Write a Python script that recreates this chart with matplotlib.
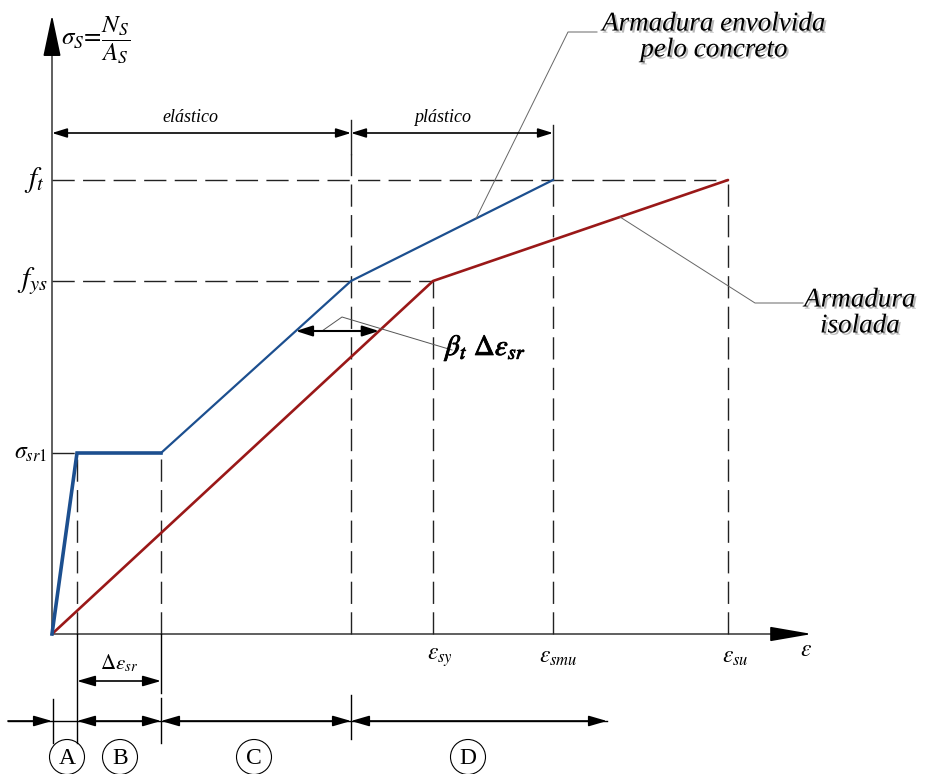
import numpy as np
import matplotlib
matplotlib.use('Agg')
import matplotlib.pyplot as plt
import matplotlib.patheffects as pe
from matplotlib.patches import Circle

plt.rcParams['font.family'] = ['Liberation Serif', 'DejaVu Serif']
plt.rcParams['mathtext.fontset'] = 'stix'

# Valores do diagrama (unidades do desenho)
eps_sr1 = 25          # fim da fissuracao
eps_patamar = 109     # fim do patamar de fissuracao
eps_plast = 299       # escoamento da armadura envolvida
eps_sy = 381
eps_smu = 501
eps_su = 676
sig_sr1 = 181
f_ys = 353
f_t = 454

eps_envolvida = [0, eps_sr1, eps_patamar, eps_plast, eps_smu]
sig_envolvida = [0, sig_sr1, sig_sr1, f_ys, f_t]
eps_isolada = [0, eps_sy, eps_su]
sig_isolada = [0, f_ys, f_t]

trechos = ['A', 'B', 'C', 'D']
limites_trechos = [0, eps_sr1, eps_patamar, eps_plast, 555]

azul = '#1c4f8f'
vermelho = '#9a1818'
cinza = '#444444'

fig = plt.figure(figsize=(9.29, 7.74), dpi=100)
ax = fig.add_axes([0, 0, 1, 1])
ax.set_xlim(-52, 877)
ax.set_ylim(-140, 634)
ax.axis('off')

# eixos
ax.plot([0, 0], [0, 590], color=cinza, lw=1.2)
ax.plot([0, 730], [0, 0], color=cinza, lw=1.2)
ax.annotate('', xy=(0, 619), xytext=(0, 580),
            arrowprops=dict(arrowstyle='-|>,head_length=2.6,head_width=0.55', color='black',
                            mutation_scale=10, shrinkA=0, shrinkB=0, lw=1.2))
ax.annotate('', xy=(760, 0), xytext=(725, 0),
            arrowprops=dict(arrowstyle='-|>,head_length=2.6,head_width=0.45', color='black',
                            mutation_scale=10, shrinkA=0, shrinkB=0, lw=1.2))

# linhas tracejadas de referencia
tr = dict(color='#222222', lw=1.0, dashes=(16, 6))
ax.plot([0, eps_su], [f_t, f_t], **tr)
ax.plot([0, eps_sy], [f_ys, f_ys], **tr)
ax.plot([0, eps_sr1], [sig_sr1, sig_sr1], **tr)
ax.plot([eps_sr1, eps_sr1], [0, sig_sr1], **tr)
ax.plot([eps_patamar, eps_patamar], [0, sig_sr1], **tr)
ax.plot([eps_plast, eps_plast], [0, 480], **tr)
ax.plot([eps_sy, eps_sy], [0, f_ys], **tr)
ax.plot([eps_smu, eps_smu], [0, f_t], **tr)
ax.plot([eps_su, eps_su], [0, f_t], **tr)
ax.plot([eps_plast, eps_plast], [480, 514], color='#222222', lw=1.0)
ax.plot([eps_smu, eps_smu], [f_t, 509], color='#222222', lw=1.0)

# curvas
ax.plot(eps_isolada, sig_isolada, color=vermelho, lw=1.9, solid_capstyle='round')
ax.plot(eps_envolvida[:3], sig_envolvida[:3], color=azul, lw=2.6, solid_joinstyle='miter')
ax.plot(eps_envolvida[2:], sig_envolvida[2:], color=azul, lw=1.6)


def cota(x0, x1, y, estilo='<|-|>', hl=0.55, hw=0.16, lw=1.2):
    ax.annotate('', xy=(x1, y), xytext=(x0, y),
                arrowprops=dict(arrowstyle=f'{estilo},head_length={hl},head_width={hw}',
                                color='black', mutation_scale=20, shrinkA=0, shrinkB=0, lw=lw))


# elastico / plastico
cota(0, eps_plast, 501, hl=0.45, hw=0.14)
cota(eps_plast, eps_smu, 501, hl=0.45, hw=0.14)
ax.text(138, 517, 'elástico', fontsize=13, style='italic', ha='center', va='center')
ax.text(391, 517, 'plástico', fontsize=13, style='italic', ha='center', va='center')

# beta_t * delta eps_sr
y_b = 303
x_azul = np.interp(y_b, [sig_sr1, f_ys], [eps_patamar, eps_plast])
x_verm = np.interp(y_b, sig_isolada, eps_isolada)
cota(x_azul, x_verm, y_b, hl=0.5, hw=0.16, lw=1.5)
ax.plot([270, 290, 400], [303, 317, 284], color='#555555', lw=0.7)
ax.text(393, 286, r'$\beta_t\ \Delta\varepsilon_{sr}$', fontsize=21, ha='left', va='center',
        path_effects=[pe.withStroke(linewidth=0.6, foreground='black')])

# delta eps_sr
ax.plot([eps_sr1, eps_sr1], [0, -109], color='black', lw=1.0)
ax.plot([eps_patamar, eps_patamar], [0, -59], color='black', lw=1.0)
ax.plot([eps_patamar, eps_patamar], [-64, -109], color='black', lw=1.0)
cota(eps_sr1, eps_patamar, -47)
ax.text((eps_sr1 + eps_patamar) / 2, -29, r'$\Delta\varepsilon_{sr}$', fontsize=15,
        ha='center', va='center')

# trechos A, B, C, D
y_t = -87
ax.plot([-44, limites_trechos[-1]], [y_t, y_t], color='black', lw=1.0)
ax.plot([1, 1], [-65, -109], color='black', lw=1.0)
ax.plot([eps_plast, eps_plast], [-61, -105], color='black', lw=1.0)
cota(-44, limites_trechos[0], y_t, estilo='-|>')
for a, b in zip(limites_trechos[1:-1], limites_trechos[2:]):
    cota(a, b, y_t)
centros = [15, 68, 202, 416]
for nome, cx in zip(trechos, centros):
    ax.add_patch(Circle((cx, -123), 17.5, fill=False, ec='black', lw=0.8))
    ax.text(cx, -124, nome, fontsize=17, ha='center', va='center')

# rotulos dos eixos
ax.text(9, 594, r'$\sigma_S\!=\!\dfrac{N_S}{A_S}$', fontsize=18, ha='left', va='center')
ax.text(-8, f_t, r'$f_t$', fontsize=21, ha='right', va='center')
ax.text(-4, f_ys, r'$f_{ys}$', fontsize=21, ha='right', va='center')
ax.text(-5, sig_sr1, r'$\sigma_{sr1}$', fontsize=17, ha='right', va='center')
ax.text(eps_sy + 7, -24, r'$\varepsilon_{sy}$', fontsize=17, ha='center', va='center')
ax.text(eps_smu + 5, -24, r'$\varepsilon_{smu}$', fontsize=17, ha='center', va='center')
ax.text(eps_su + 7, -24, r'$\varepsilon_{su}$', fontsize=17, ha='center', va='center')
ax.text(754, -17, r'$\varepsilon$', fontsize=17, ha='center', va='center')

# legendas com linha de chamada
sombra = [pe.withSimplePatchShadow(offset=(1.5, -1.5), shadow_rgbFace='#888888', alpha=0.6)]
e_env = 424
ax.plot([e_env, 516, 545], [np.interp(e_env, eps_envolvida[3:], sig_envolvida[3:]), 602, 602],
        color='#666666', lw=0.7)
ax.text(662, 597, 'Armadura envolvida\npelo concreto', fontsize=19.5, style='italic',
        family='Liberation Serif', ha='center', va='center', linespacing=1.05,
        path_effects=sombra)
e_iso = 568
ax.plot([e_iso, 703, 751], [np.interp(e_iso, eps_isolada, sig_isolada), 331, 331],
        color='#666666', lw=0.7)
ax.text(808, 321, 'Armadura\nisolada', fontsize=19.5, style='italic',
        family='Liberation Serif', ha='center', va='center', linespacing=1.05,
        path_effects=sombra)

fig.savefig('out.png', dpi=100)
